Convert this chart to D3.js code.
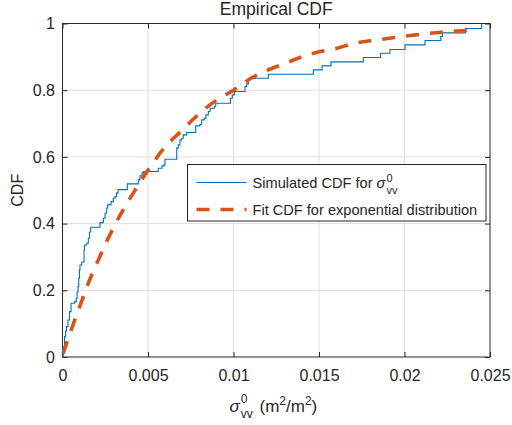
<!DOCTYPE html>
<html>
<head>
<meta charset="utf-8">
<script src="https://cdn.jsdelivr.net/npm/d3@7"></script>
<style>
  body { margin: 0; background: #fff; }
  text { font-family: "Liberation Sans", Arial, sans-serif; fill: #262626; }
</style>
</head>
<body>
<div id="chart"></div>
<script>
// empirical CDF steps (x where the step happens, CDF level after it)
var ecdfX = [0.00002, 0.00003, 0.00012, 0.00018, 0.00023, 0.00032, 0.00041, 0.0005, 0.00071, 0.00081,
  0.00085, 0.00091, 0.00095, 0.00099, 0.00102, 0.00112, 0.00126, 0.00129, 0.00142, 0.00151,
  0.00158, 0.00165, 0.00219, 0.00239, 0.00249, 0.00258, 0.00264, 0.00284, 0.00297, 0.00307,
  0.00316, 0.00325, 0.00379, 0.00443, 0.00453, 0.00465, 0.00473, 0.0056, 0.00582, 0.00594,
  0.00599, 0.00668, 0.00677, 0.00687, 0.00697, 0.00706, 0.00726, 0.00779, 0.00804, 0.00814,
  0.00829, 0.00839, 0.00853, 0.00863, 0.00888, 0.00896, 0.00982, 0.00993, 0.01005, 0.01067,
  0.01077, 0.01087, 0.01096, 0.01204, 0.01467, 0.01518, 0.0157, 0.01759, 0.0186, 0.01915,
  0.02003, 0.0212, 0.02212, 0.02222, 0.02356, 0.02451];
var ecdfY = [0, 0.031, 0.061, 0.078, 0.091, 0.111, 0.136, 0.161, 0.166, 0.176,
  0.195, 0.211, 0.236, 0.261, 0.276, 0.285, 0.321, 0.336, 0.341, 0.356,
  0.375, 0.389, 0.403, 0.416, 0.431, 0.447, 0.456, 0.466, 0.476, 0.481,
  0.492, 0.502, 0.519, 0.531, 0.543, 0.552, 0.556, 0.566, 0.573, 0.576,
  0.593, 0.627, 0.636, 0.651, 0.656, 0.666, 0.673, 0.693, 0.698, 0.711,
  0.716, 0.726, 0.736, 0.746, 0.751, 0.761, 0.776, 0.786, 0.796, 0.811,
  0.819, 0.829, 0.836, 0.848, 0.861, 0.873, 0.885, 0.898, 0.911, 0.922,
  0.936, 0.949, 0.961, 0.972, 0.985, 1.0];

// fitted exponential CDF
var fitX = [0.00003, 0.0005, 0.001, 0.0015, 0.002, 0.003, 0.004, 0.005, 0.006, 0.007, 0.008, 0.009,
  0.010, 0.011, 0.012, 0.013, 0.014, 0.015, 0.016, 0.017, 0.018, 0.019, 0.020,
  0.021, 0.022, 0.023, 0.0237];
var fitY = [0.01, 0.08, 0.15, 0.22, 0.28, 0.39, 0.48, 0.56, 0.63, 0.68, 0.73, 0.77,
  0.80, 0.835, 0.86, 0.88, 0.90, 0.915, 0.925, 0.94, 0.948, 0.955, 0.962,
  0.968, 0.973, 0.977, 0.979];

var xTicks = [0, 0.005, 0.01, 0.015, 0.02, 0.025];
var xTickLabels = ["0", "0.005", "0.01", "0.015", "0.02", "0.025"];
var yTicks = [0, 0.2, 0.4, 0.6, 0.8, 1];
var yTickLabels = ["0", "0.2", "0.4", "0.6", "0.8", "1"];

var W = 512, H = 425;
var margin = {top: 23.5, right: 22, bottom: 68, left: 62.5};
var w = W - margin.left - margin.right,
    h = H - margin.top - margin.bottom;

var svg = d3.select("#chart").append("svg").attr("width", W).attr("height", H);
var g = svg.append("g").attr("transform", "translate(" + margin.left + "," + margin.top + ")");

var x = d3.scaleLinear().domain([0, 0.025]).range([0, w]);
var y = d3.scaleLinear().domain([0, 1]).range([h, 0]);

// grid
g.append("g").selectAll("line").data(xTicks.slice(1, -1)).join("line")
  .attr("x1", d => x(d)).attr("x2", d => x(d)).attr("y1", 0).attr("y2", h)
  .attr("stroke", "#dfdfdf").attr("stroke-width", 1);
g.append("g").selectAll("line").data(yTicks.slice(1, -1)).join("line")
  .attr("y1", d => y(d)).attr("y2", d => y(d)).attr("x1", 0).attr("x2", w)
  .attr("stroke", "#dfdfdf").attr("stroke-width", 1);

// axes with inward ticks
function styleAxis(sel) {
  sel.select(".domain").remove();
  sel.selectAll(".tick line").attr("stroke", "#262626");
  sel.selectAll(".tick text").style("font-size", "16px").attr("fill", "#262626");
}
g.append("g").attr("transform", "translate(0," + h + ")")
  .call(d3.axisBottom(x).tickValues(xTicks).tickFormat((d, i) => xTickLabels[i]).tickSizeInner(-5).tickSizeOuter(0).tickPadding(13))
  .call(styleAxis);
g.append("g")
  .call(d3.axisTop(x).tickValues(xTicks).tickFormat("").tickSizeInner(-5).tickSizeOuter(0))
  .call(styleAxis);
g.append("g")
  .call(d3.axisLeft(y).tickValues(yTicks).tickFormat((d, i) => yTickLabels[i]).tickSizeInner(-5).tickSizeOuter(0).tickPadding(7.5))
  .call(styleAxis);
g.append("g").attr("transform", "translate(" + w + ",0)")
  .call(d3.axisRight(y).tickValues(yTicks).tickFormat("").tickSizeInner(-5).tickSizeOuter(0))
  .call(styleAxis);

// box
g.append("rect").attr("width", w).attr("height", h)
  .attr("fill", "none").attr("stroke", "#262626").attr("stroke-width", 1);

// ecdf
var marks = g.append("g");
var stepLine = d3.line().x((d, i) => x(ecdfX[i])).y((d, i) => y(ecdfY[i])).curve(d3.curveStepAfter);
marks.append("path").datum(ecdfX).attr("d", stepLine)
  .attr("fill", "none").attr("stroke", "#0072bd").attr("stroke-width", 1.1);

// fit
var fitLine = d3.line().x((d, i) => x(fitX[i])).y((d, i) => y(fitY[i])).curve(d3.curveMonotoneX);
marks.append("path").datum(fitX).attr("d", fitLine)
  .attr("fill", "none").attr("stroke", "#d95319").attr("stroke-width", 3.6)
  .attr("stroke-dasharray", "13,11");

// title
svg.append("text").attr("x", margin.left + w / 2).attr("y", 15)
  .attr("text-anchor", "middle").style("font-size", "17.5px").text("Empirical CDF");

// y label
svg.append("text").attr("transform", "translate(23," + (margin.top + h / 2) + ") rotate(-90)")
  .attr("text-anchor", "middle").style("font-size", "16px").text("CDF");

// x label: sigma^0_vv (m^2/m^2)
var xl = svg.append("g");
var sig = xl.append("text").attr("x", 229.5).attr("y", 411.5).style("font-size", "17px")
  .style("font-style", "italic").text("σ");
var sx = 229.5 + sig.node().getComputedTextLength() + 1;
xl.append("text").attr("x", sx).attr("y", 403).style("font-size", "12px").text("0");
xl.append("text").attr("x", sx).attr("y", 417.5).style("font-size", "12px").text("vv");
var unit = xl.append("text").attr("x", 259.5).attr("y", 411.5).style("font-size", "17px");
unit.append("tspan").text("(m");
unit.append("tspan").attr("dy", -7).style("font-size", "12px").text("2");
unit.append("tspan").attr("dy", 7).text("/m");
unit.append("tspan").attr("dy", -7).style("font-size", "12px").text("2");
unit.append("tspan").attr("dy", 7).text(")");

// legend
var lg = svg.append("g").attr("transform", "translate(187.5,164.5)");
lg.append("rect").attr("width", 298.5).attr("height", 56.5)
  .attr("fill", "#fff").attr("stroke", "#262626").attr("stroke-width", 1);
lg.append("line").attr("x1", 9).attr("x2", 59).attr("y1", 18).attr("y2", 18)
  .attr("stroke", "#0072bd").attr("stroke-width", 1.1);
lg.append("line").attr("x1", 9).attr("x2", 59).attr("y1", 45).attr("y2", 45)
  .attr("stroke", "#d95319").attr("stroke-width", 3.6).attr("stroke-dasharray", "13,11");
var t1 = lg.append("text").attr("x", 65).attr("y", 23.2).style("font-size", "14.6px");
t1.append("tspan").text("Simulated CDF for ");
t1.append("tspan").style("font-style", "italic").text("σ");
var t1w = 65 + t1.node().getComputedTextLength() + 1;
lg.append("text").attr("x", t1w).attr("y", 17).style("font-size", "11px").text("0");
lg.append("text").attr("x", t1w).attr("y", 29.5).style("font-size", "11px").text("vv");
lg.append("text").attr("x", 65).attr("y", 50).style("font-size", "14.6px")
  .text("Fit CDF for exponential distribution");
</script>
</body>
</html>
